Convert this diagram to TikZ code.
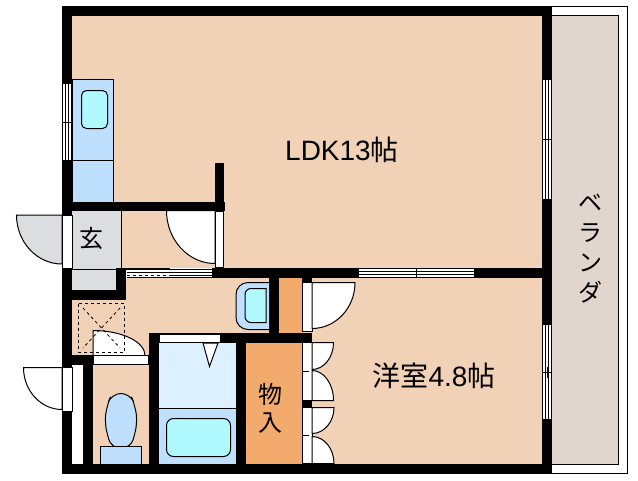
\documentclass[tikz,border=0pt]{standalone}
\usepackage{fontspec}
\setmainfont{Liberation Sans}
\newfontfamily\cjk{Noto Sans CJK JP}
\usepackage{xcolor}
\definecolor{suelo}{HTML}{F2D2B6}
\definecolor{armario}{HTML}{F2AB6D}
\definecolor{azul}{HTML}{BFDFFF}
\definecolor{celeste}{HTML}{DDF0FF}
\definecolor{cian}{HTML}{AFF9FF}
\definecolor{gris}{HTML}{DCDDDF}
\definecolor{terraza}{HTML}{E0D6CE}
\tikzset{
  puerta/.style={draw=black,fill=white,line width=1pt},
  marco/.style={draw=black,fill=white,line width=0.8pt},
  fina/.style={black,line width=0.8pt},
  mueble/.style={draw=black,fill=azul,line width=1pt},
  rotulo/.style={font=\fontsize{24}{28}\selectfont\cjk,align=center,inner sep=0pt},
  sala/.style={font=\fontsize{28}{30}\selectfont,inner sep=0pt}
}

\begin{document}
\begin{tikzpicture}[x=1pt,y=-1pt]
    \useasboundingbox (0,0) rectangle (638,480);

    % terraza
    \draw[line width=1pt,fill=white] (552,6.5) -- (627.5,6.5) -- (627.5,473.5) -- (552,473.5);
    \draw[line width=1pt,fill=terraza] (552,15.5) -- (618.5,15.5) -- (618.5,464.5) -- (552,464.5);

    % suelo
    \fill[suelo] (62,6) rectangle (552,474);

    % zonas de color
    \fill[gris] (72,211) rectangle (121,290);
    \draw[line width=0.8pt] (121,211) -- (121,268);
    \draw[line width=0.8pt] (72,269) -- (116,269);
    \fill[armario] (279,278) rectangle (302,333);
    \fill[armario] (246,343) rectangle (302,464);
    \fill[celeste] (159,343) rectangle (236,408);
    \fill[azul] (159,408) rectangle (236,464);
    \draw[line width=1pt] (159,408) -- (236,408);
    \fill[white] (72,365) rectangle (83,464);

    % muros exteriores
    \fill[black] (62,6) rectangle (552,16);
    \fill[black] (62,6) rectangle (72,474);
    \fill[black] (542,6) rectangle (552,474);
    \fill[black] (62,464) rectangle (552,474);

    % muros interiores
    \fill[black] (62,202) rectangle (225,211);
    \fill[black] (215,163) rectangle (224,211);
    \fill[black] (116,268) rectangle (126,300);
    \fill[black] (62,290) rectangle (126,300);
    \fill[black] (212,268) rectangle (542,278);
    \fill[black] (269,268) rectangle (279,343);
    \fill[black] (220,333) rectangle (312,343);
    \fill[black] (302,268) rectangle (312,282);
    \fill[black] (302,401) rectangle (312,407);
    \fill[black] (236,333) rectangle (246,464);
    \fill[black] (149,333) rectangle (159,464);
    \fill[black] (149,333) rectangle (220,343);
    \fill[black] (83,355) rectangle (93,464);
    \fill[black] (72,355) rectangle (93,365);
    \fill[black] (302,342) rectangle (312,464);

    % cocina
    \draw[mueble] (72.5,79.5) rectangle (113.5,202);
    \draw[line width=1pt] (72,160.5) -- (113.5,160.5);
    \draw[line width=1pt,fill=cian,rounded corners=5pt] (81.5,90.5) rectangle (107.5,128.5);

    % ventana cocina
    \draw[marco] (62.5,83.5) rectangle (71.5,160);
    \draw[fina] (65.5,83.5) -- (65.5,160);
    \draw[fina] (68.5,83.5) -- (68.5,160);
    \draw[fina] (63,122.5) -- (71,122.5);
    \draw[fina] (68,118) -- (68,127);

    % ventanas terraza
    \draw[marco] (542.5,79.5) rectangle (551.5,199.5);
    \draw[fina] (545.5,79.5) -- (545.5,199.5);
    \draw[fina] (548.5,79.5) -- (548.5,199.5);
    \draw[fina] (543,139.5) -- (551,139.5);
    \draw[fina] (548,133) -- (548,146);
    \draw[marco] (542.5,324.5) rectangle (551.5,419.5);
    \draw[fina] (545.5,324.5) -- (545.5,419.5);
    \draw[fina] (548.5,324.5) -- (548.5,419.5);
    \draw[fina] (543,372.5) -- (551,372.5);
    \draw[fina] (547,367) -- (547,378);

    % ventana LDK
    \draw[marco] (358.5,268.5) rectangle (474.5,277.5);
    \draw[fina] (358.5,271.5) -- (474.5,271.5);
    \draw[fina] (358.5,274.5) -- (474.5,274.5);
    \draw[fina] (416.5,269) -- (416.5,277);
    \draw[fina] (410,274.5) -- (423,274.5);

    % corredera
    \fill[white] (126,268) rectangle (212,278);
    \draw[line width=2pt] (126,269) -- (170,269);
    \draw[fina] (170,269) -- (212,269);
    \draw[fina] (127,272.5) -- (212,272.5);
    \draw[fina,dashed] (127,275) -- (170,275);
    \draw[fina] (170,275) -- (212,275);
    \draw[fina] (127,277.5) -- (212,277.5);

    % puerta entrada
    \draw[line width=1pt,fill=gris] (62,215) -- (16.5,215) arc[start angle=180,end angle=90,x radius=45.5,y radius=49] -- cycle;
    \draw[marco] (62.5,215) rectangle (72,268);

    % puerta LDK
    \draw[puerta] (215,210.5) -- (166.5,210.5) arc[start angle=180,end angle=90,x radius=48.5,y radius=53] -- cycle;
    \draw[marco] (215.5,211) rectangle (223.5,267.5);

    % puerta aseo
    \draw[puerta] (93,330.5) arc[start angle=-90,end angle=0,x radius=52,y radius=25] -- (93,355.5) -- cycle;
    \draw[marco] (93,355.5) rectangle (148,364);

    % bandeja lavadora
    \draw[fina,dashed] (78.5,303.5) rectangle (124.5,352);
    \draw[fina,dashed] (83,308) -- (120,348);
    \draw[fina,dashed] (120,308) -- (83,348);

    % puerta exterior
    \draw[puerta] (62,367.5) -- (23.5,367.5) arc[start angle=180,end angle=90,x radius=38.5,y radius=42] -- cycle;
    \draw[marco] (62.5,367) rectangle (72,411);

    % inodoro
    \draw[mueble,rounded corners=9pt] (112,393.5) -- (130,393.5) -- (135,405) -- (137.5,423) -- (131,448) -- (111,448) -- (104.5,423) -- (107,405) -- cycle;
    \draw[mueble] (100.5,446.5) rectangle (141.5,464);

    % bano
    \draw[line width=1pt,fill=cian,rounded corners=7pt] (166.5,418.5) rectangle (230.5,456.5);
    \draw[marco] (159,334.5) rectangle (220,342.5);
    \draw[puerta] (203,343) -- (218,343) -- (209.5,366.5) -- cycle;

    % lavabo
    \draw[mueble] (269,282.5) [rounded corners=12pt] -- (236,282.5) -- (236,329.5) [sharp corners] -- (269,329.5);
    \draw[line width=1pt,fill=cian] (266,288.5) [rounded corners=6pt] -- (245,288.5) -- (245,322.5) [sharp corners] -- (266,322.5) -- cycle;

    % puerta dormitorio
    \draw[marco] (302.5,282) rectangle (312,331.5);
    \draw[puerta] (312,282.5) -- (355,282.5) arc[start angle=0,end angle=90,x radius=43,y radius=46] -- cycle;

    % puertas armario
    \draw[marco] (302.5,342.5) rectangle (312,400.5);
    \draw[marco] (302.5,407.5) rectangle (312,463);
    \draw[fina] (303,371.5) -- (309,371.5);
    \draw[fina] (303,435.5) -- (309,435.5);
    \draw[puerta] (312,342.5) -- (333.5,342.5) arc[start angle=0,end angle=90,x radius=21.5,y radius=27] -- cycle;
    \draw[puerta] (312,400.5) -- (333.5,400.5) arc[start angle=0,end angle=-90,x radius=21.5,y radius=30] -- cycle;
    \draw[puerta] (312,407.5) -- (334,407.5) arc[start angle=0,end angle=90,x radius=22,y radius=26] -- cycle;
    \draw[puerta] (312,463.5) -- (334,463.5) arc[start angle=0,end angle=-90,x radius=22,y radius=27] -- cycle;

    % leyendas
    \node[sala] (ldk) at (342,150) {LDK13{\cjk 帖}};
    \node[sala] (yoshitsu) at (434,376) {{\cjk 洋室}4.8{\cjk 帖}};
    \node[rotulo] (genkan) at (91,238) {玄};
    \node[rotulo] (monoire) at (270,408) {物\\入};
    \node[rotulo,font=\fontsize{24}{30}\selectfont\cjk] (veranda) at (590,249) {ベ\\ラ\\ン\\ダ};

\end{tikzpicture}
\end{document}
